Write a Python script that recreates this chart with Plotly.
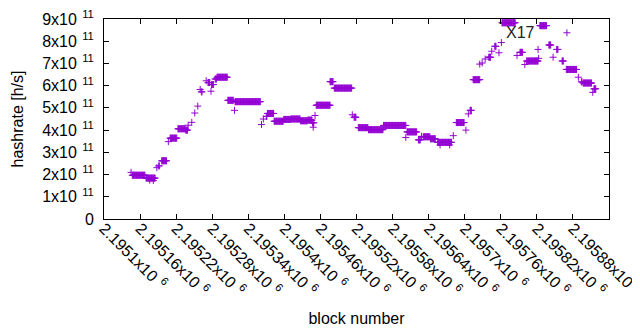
import plotly.graph_objects as go

# Runs of blocks with constant estimated hashrate (start block, end block, hashrate h/s)
run_start = [2195145, 2195147, 2195170, 2195176, 2195182, 2195188, 2195191, 2195196, 2195207, 2195210,
             2195223, 2195236, 2195240, 2195246, 2195251, 2195256, 2195260, 2195262, 2195270, 2195273,
             2195278, 2195279, 2195285, 2195288, 2195306, 2195317, 2195318, 2195362, 2195365, 2195370,
             2195372, 2195383, 2195399, 2195411, 2195427, 2195439, 2195447, 2195448, 2195451, 2195453,
             2195476, 2195483, 2195513, 2195516, 2195523, 2195540, 2195565, 2195602, 2195604, 2195623,
             2195628, 2195631, 2195643, 2195655, 2195659, 2195675, 2195681, 2195686, 2195702, 2195706,
             2195709, 2195714, 2195725, 2195729, 2195734, 2195740, 2195745, 2195750, 2195757, 2195761,
             2195762, 2195787, 2195792, 2195800, 2195803, 2195822, 2195823, 2195825, 2195840, 2195847,
             2195853, 2195862, 2195870, 2195869, 2195889, 2195894, 2195897, 2195913, 2195915]
run_end = [2195145, 2195168, 2195185, 2195176, 2195182, 2195188, 2195192, 2195204, 2195207, 2195221,
           2195235, 2195239, 2195240, 2195246, 2195251, 2195256, 2195260, 2195263, 2195270, 2195276,
           2195278, 2195282, 2195287, 2195305, 2195315, 2195317, 2195360, 2195362, 2195365, 2195371,
           2195382, 2195398, 2195410, 2195426, 2195438, 2195446, 2195449, 2195448, 2195451, 2195476,
           2195481, 2195512, 2195513, 2195519, 2195539, 2195564, 2195602, 2195602, 2195620, 2195626,
           2195628, 2195642, 2195651, 2195678, 2195659, 2195675, 2195681, 2195699, 2195702, 2195706,
           2195711, 2195725, 2195725, 2195729, 2195734, 2195743, 2195745, 2195752, 2195757, 2195761,
           2195784, 2195787, 2195796, 2195800, 2195822, 2195822, 2195823, 2195836, 2195843, 2195847,
           2195855, 2195864, 2195870, 2195886, 2195889, 2195895, 2195911, 2195913, 2195918]
run_hashrate = [2.10e11, 1.97e11, 1.84e11, 1.75e11, 1.73e11, 2.31e11, 2.39e11, 2.62e11, 3.48e11, 3.64e11,
                4.06e11, 4.00e11, 4.22e11, 4.35e11, 4.77e11, 5.08e11, 5.83e11, 5.72e11, 6.22e11, 6.14e11,
                5.75e11, 6.05e11, 6.30e11, 6.38e11, 5.34e11, 4.89e11, 5.28e11, 4.25e11, 4.50e11, 4.62e11,
                4.75e11, 4.40e11, 4.48e11, 4.50e11, 4.42e11, 4.45e11, 4.33e11, 4.13e11, 4.66e11, 5.12e11,
                6.18e11, 5.89e11, 4.69e11, 4.58e11, 4.11e11, 4.02e11, 4.21e11, 3.67e11, 3.92e11, 3.56e11,
                3.72e11, 3.70e11, 3.61e11, 3.45e11, 3.33e11, 3.33e11, 3.75e11, 4.34e11, 4.00e11, 4.73e11,
                4.89e11, 6.27e11, 6.97e11, 7.02e11, 7.20e11, 7.28e11, 7.55e11, 7.77e11, 7.48e11, 7.94e11,
                8.83e11, 7.36e11, 7.50e11, 6.95e11, 7.11e11, 7.63e11, 7.23e11, 8.70e11, 7.83e11, 7.28e11,
                7.63e11, 7.11e11, 8.38e11, 6.73e11, 6.38e11, 6.17e11, 6.12e11, 5.70e11, 5.86e11]

x_tick_vals = [2195100, 2195160, 2195220, 2195280, 2195340, 2195400, 2195460,
               2195520, 2195580, 2195640, 2195700, 2195760, 2195820, 2195880]
x_tick_text = ["2.1951", "2.19516", "2.19522", "2.19528", "2.19534", "2.1954", "2.19546",
               "2.19552", "2.19558", "2.19564", "2.1957", "2.19576", "2.19582", "2.19588"]
y_tick_vals = [0, 1e11, 2e11, 3e11, 4e11, 5e11, 6e11, 7e11, 8e11, 9e11]
y_tick_text = ["0", "1", "2", "3", "4", "5", "6", "7", "8", "9"]

label_text = "X17"
label_block = 2195766
label_value = 8.39e11

xs, ys = [], []
for s, e, v in zip(run_start, run_end, run_hashrate):
    for b in range(s, e + 1):
        xs.append(b)
        ys.append(v)

color = "#9400D3"
font = "Liberation Sans, Arial, sans-serif"

fig = go.Figure()
fig.add_trace(go.Scatter(
    x=xs, y=ys, mode="markers",
    marker=dict(symbol="cross-thin", size=5, color=color, line=dict(color=color, width=1)),
    showlegend=False, hoverinfo="skip"))

fig.add_annotation(x=label_block, y=label_value, xref="x", yref="y", text=label_text,
                   showarrow=False, xanchor="left", yanchor="middle",
                   font=dict(family=font, size=16, color="#222222"))

# the page body adds an 8px offset, so the figure is 8px smaller and margins shifted
fig.update_layout(
    width=632, height=322,
    margin=dict(l=96, r=31, t=11, b=111),
    paper_bgcolor="white", plot_bgcolor="white",
    font=dict(family=font, size=16, color="black"),
)
fig.update_xaxes(
    range=[2195100, 2195940], tickvals=x_tick_vals,
    ticktext=[t + "x10<sup>\u2009 6</sup>" for t in x_tick_text],
    tickangle=45, ticks="inside", ticklen=5, tickcolor="black",
    showline=True, linecolor="black", linewidth=1, mirror="allticks",
    showgrid=False, zeroline=False, automargin=False,
    ticklabeloverflow="allow", ticklabelstandoff=-7,
    title=dict(text="block number", font=dict(size=16), standoff=14),
    tickfont=dict(size=16),
)
fig.update_yaxes(
    range=[0, 9e11], tickvals=y_tick_vals,
    ticktext=[t if t == "0" else t + "x10<sup>\u2009 11</sup>" for t in y_tick_text],
    ticks="inside", ticklen=5, tickcolor="black",
    showline=True, linecolor="black", linewidth=1, mirror="allticks",
    showgrid=False, zeroline=False, automargin=False,
    ticklabeloverflow="allow", ticklabelstandoff=6,
    title=dict(text="hashrate [h/s]", font=dict(size=16), standoff=14),
    tickfont=dict(size=16),
)

fig.write_html("out.html")
